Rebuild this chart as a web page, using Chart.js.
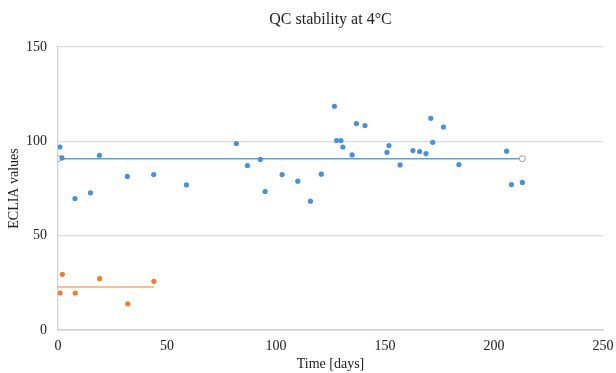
<!DOCTYPE html>
<html>
<head>
<meta charset="utf-8">
<script src="https://cdn.jsdelivr.net/npm/chart.js@4"></script>
<style>
html,body{margin:0;padding:0;background:#fff;}
#wrap{width:616px;height:373px;}
</style>
</head>
<body>
<div id="wrap"><canvas id="c" width="616" height="373"></canvas></div>
<script>
// Blue QC series (days, ECLIA value)
const blueDays = [0.9,1.8,7.8,14.9,19.0,31.8,43.9,58.9,81.8,86.9,92.8,95.0,102.8,110.0,115.8,120.8,126.8,127.8,129.8,130.7,134.9,136.9,140.8,150.9,151.8,156.9,162.8,165.9,168.8,171.0,171.9,176.8,183.9,205.8,208.0,213.0];
const blueValues = [97.0,91.2,69.7,72.7,92.6,81.4,82.4,76.9,98.8,87.2,90.4,73.4,82.4,78.9,68.3,82.6,118.6,100.4,100.4,97.0,92.8,109.4,108.4,94.2,97.8,87.5,95.1,94.6,93.5,112.2,99.5,107.6,87.7,94.8,77.1,78.2];
// Orange QC series
const orangeDays = [1.0,2.0,7.9,19.1,32.0,44.0];
const orangeValues = [19.6,29.5,19.6,27.2,13.9,25.8];
// Mean lines
const blueMeanDays = [0, 213];
const blueMeanValues = [90.8, 90.8];
const orangeMeanDays = [0, 44];
const orangeMeanValues = [22.8, 22.8];
// Axis ticks
const xTicks = [0,50,100,150,200,250];
const yTicks = [0,50,100,150];
const chartTitle = 'QC stability at 4°C';

const toPts = (xs, ys) => xs.map((x,i)=>({x:x, y:ys[i]}));
const BLUE = '#4A90D9', ORANGE = '#ED7D31';
const FONT = "'Liberation Serif','Times New Roman',serif";

const titlePlugin = {
  id: 'areaTitle',
  afterDraw(chart) {
    const {ctx, chartArea} = chart;
    ctx.save();
    ctx.font = "16px " + FONT;
    ctx.fillStyle = '#222';
    ctx.textAlign = 'center';
    ctx.textBaseline = 'middle';
    ctx.fillText(chartTitle, (chartArea.left + chartArea.right) / 2, 20);
    ctx.restore();
  }
};

new Chart(document.getElementById('c'), {
  type: 'scatter',
  data: {
    datasets: [
      {data: toPts(blueMeanDays, blueMeanValues), showLine: true, borderColor: '#5BA3D9', borderWidth: 1.5,
       pointRadius: 3, pointBackgroundColor: '#fff', pointBorderColor: '#9a9a9a', pointBorderWidth: 1, order: 3},
      {data: toPts(orangeMeanDays, orangeMeanValues), showLine: true, borderColor: ORANGE, borderWidth: 1.2,
       pointRadius: 0, order: 3},
      {data: toPts(blueDays, blueValues), backgroundColor: BLUE, borderColor: BLUE, pointRadius: 2.6, borderWidth: 0, order: 1},
      {data: toPts(orangeDays, orangeValues), backgroundColor: ORANGE, borderColor: ORANGE, pointRadius: 2.6, borderWidth: 0, order: 1}
    ]
  },
  options: {
    responsive: false,
    animation: false,
    layout: {padding: {left: 0, right: 2, top: 47, bottom: 0}},
    plugins: {
      legend: {display: false},
      tooltip: {enabled: false},
      title: {display: false}
    },
    scales: {
      x: {
        type: 'linear', min: 0, max: 250,
        afterBuildTicks: s => { s.ticks = xTicks.map(v=>({value:v})); },
        afterFit: s => { s.height = 43; s.paddingRight = 13; s.paddingLeft = 0; },
        grid: {display: false, drawTicks: false},
        border: {display: true, color: '#d0d0d0', width: 1.5},
        ticks: {color: '#222', font: {family: FONT, size: 14}, padding: 8, maxRotation: 0},
        title: {display: true, text: 'Time [days]', color: '#222', font: {family: FONT, size: 14}, padding: {top: 0, bottom: 0}}
      },
      y: {
        type: 'linear', min: 0, max: 150,
        afterBuildTicks: s => { s.ticks = yTicks.map(v=>({value:v})); },
        afterFit: s => { s.width = 58; },
        grid: {color: '#dcdcdc', lineWidth: 1.2, drawTicks: false},
        border: {display: true, color: '#d0d0d0', width: 1.2},
        ticks: {color: '#222', font: {family: FONT, size: 14}, padding: 11},
        title: {display: true, text: 'ECLIA values', color: '#222', font: {family: FONT, size: 14}, padding: {top: 6, bottom: 2}}
      }
    }
  },
  plugins: [titlePlugin]
});
</script>
</body>
</html>
